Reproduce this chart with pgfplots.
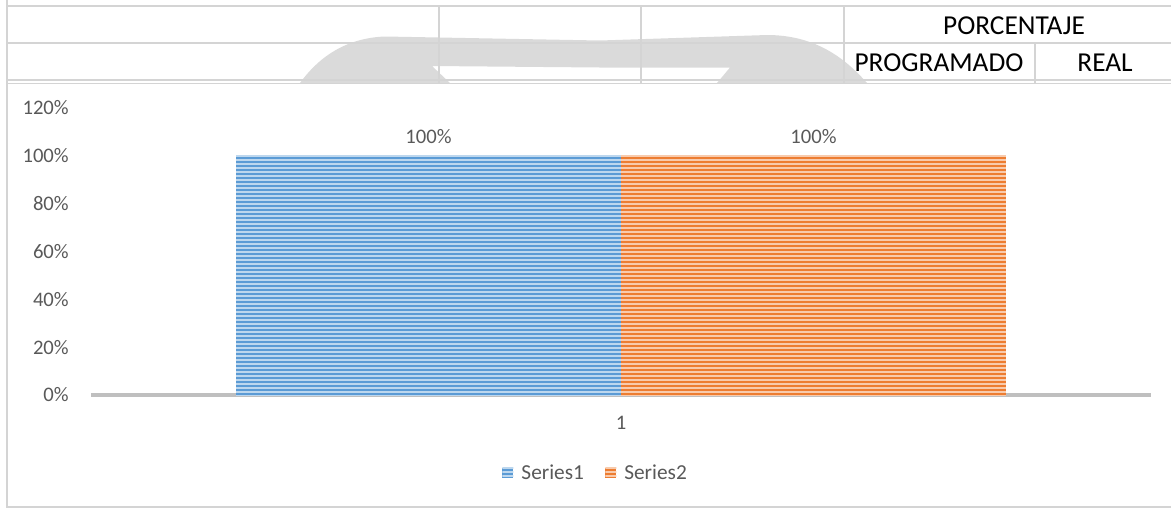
\documentclass[border=0pt]{standalone}
\usepackage{fontspec}
\setmainfont{Carlito}
\usepackage{pgfplots}
\pgfplotsset{compat=1.18}
\usetikzlibrary{patterns.meta}

\definecolor{gridc}{HTML}{D4D4D4}
\definecolor{wm}{HTML}{DADADA}
\definecolor{txt}{HTML}{595959}
\definecolor{blueA}{HTML}{5B9BD5}
\definecolor{blueB}{HTML}{BDD7EE}
\definecolor{orA}{HTML}{ED7D31}
\definecolor{orB}{HTML}{F8CBAD}
\definecolor{axgray}{HTML}{BFBFBF}

\begin{document}
\begin{tikzpicture}
% sheet background (pixel coordinates, y downwards)
\begin{scope}[x=0.75pt,y=-0.75pt]
\useasboundingbox (0,0) rectangle (1171,508);
% watermark shape behind the cells
\fill[wm] (300,83) .. controls (318,58) and (345,38) .. (385,36.5)
  -- (600,40.5) -- (767,35) .. controls (815,35) and (845,58) .. (867,83)
  -- (717,83) -- (730,67.5) -- (600,67.5) -- (432,66) -- (450,83) -- cycle;
% cell grid
\draw[gridc, line width=1.1pt] (7,6) -- (1171,6);
\draw[gridc, line width=1.1pt] (7,43) -- (1171,43);
\draw[gridc, line width=1.1pt] (7,80) -- (1171,80);
\draw[gridc, line width=1.1pt] (7,83.5) -- (1171,83.5);
\draw[gridc, line width=1.1pt] (7,0) -- (7,507) -- (1171,507);
\foreach \xx in {439,641,844} \draw[gridc, line width=1.1pt] (\xx,6) -- (\xx,83.5);
\draw[gridc, line width=1.1pt] (1035,43) -- (1035,83.5);
% header text
\begin{scope}[every node/.style={font=\fontsize{20.5}{24}\selectfont, inner sep=0pt, anchor=base}]
\node at (1014,34) {PORCENTAJE};
\node at (939,71) {PROGRAMADO};
\node at (1105,71) {REAL};
\end{scope}
\end{scope}

\begin{axis}[
  at={(91*0.75pt,-395*0.75pt)}, anchor=south west,
  scale only axis,
  width=795pt, height=215.25pt,
  xmin=0, xmax=2,
  ymin=0, ymax=120,
  ybar=0pt,
  bar width=288.75pt,
  axis x line*=bottom,
  axis y line*=left,
  x axis line style={draw=axgray, line width=2.5pt, -},
  y axis line style={draw=none},
  major tick length=0pt,
  xtick={1}, xticklabels={1},
  ytick={0,20,...,120},
  yticklabel={\pgfmathprintnumber{\tick}\%},
  /pgf/number format/assume math mode=true,
  tick label style={font=\fontsize{15.5}{18}\selectfont, text=txt, inner sep=0pt},
  yticklabel style={anchor=east, xshift=-16.5pt},
  xticklabel style={anchor=center, yshift=-21pt},
  nodes near coords={\pgfmathprintnumber{\pgfplotspointmeta}\%},
  nodes near coords style={font=\fontsize{15.5}{18}\selectfont, text=txt, anchor=center, inner sep=0pt, yshift=14.25pt},
  legend image code/.code={\draw[#1, draw=none] (0pt,-4.1pt) rectangle (8.25pt,4.1pt);},
  legend style={at={(rel axis cs:0.4764,-0.2718)}, anchor=center, draw=none, fill=none,
    font=\fontsize{16}{19}\selectfont, text=txt, legend columns=2,
    /tikz/every odd column/.append style={column sep=4pt},
    /tikz/every even column/.append style={column sep=14pt}},
  clip=false,
]
\addplot[draw=none, fill=blueA, postaction={pattern={Lines[angle=0,distance=3pt,line width=1.2pt]}, pattern color=blueB}]
  coordinates {(1,100)};
\addlegendentry{Series1}
\addplot[draw=none, fill=orA, postaction={pattern={Lines[angle=0,distance=3pt,line width=1.2pt]}, pattern color=orB}]
  coordinates {(1,100)};
\addlegendentry{Series2}
\end{axis}
\end{tikzpicture}
\end{document}
